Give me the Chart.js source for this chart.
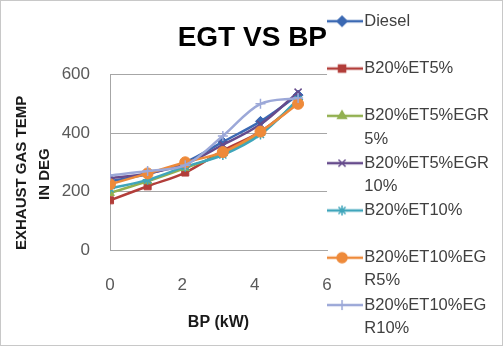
<!DOCTYPE html>
<html>
<head>
<meta charset="utf-8">
<script src="https://cdn.jsdelivr.net/npm/chart.js@4.4.1/dist/chart.umd.min.js"></script>
<style>
  html, body { margin: 0; background: #fff; }
  #wrap { width: 503px; height: 346px; position: relative; }
</style>
</head>
<body>
<div id="wrap"><canvas id="chart"></canvas></div>
<script>
// BP (kW) readings
const bp = [0, 1.04, 2.08, 3.12, 4.16, 5.2];

const seriesNames = ['Diesel', 'B20%ET5%', 'B20%ET5%EGR5%', 'B20%ET5%EGR10%', 'B20%ET10%', 'B20%ET10%EGR5%', 'B20%ET10%EGR10%'];

// exhaust gas temperature, deg
const diesel      = [235, 260, 300, 370, 440, 530];
const b20et5      = [170, 218, 265, 340, 405, 505];
const b20et5egr5  = [195, 235, 280, 330, 400, 510];
const b20et5egr10 = [245, 262, 295, 360, 430, 540];
const b20et10     = [210, 240, 285, 325, 395, 515];
const b20et10egr5 = [225, 262, 300, 335, 405, 500];
const b20et10egr10 = [255, 270, 290, 390, 500, 520];

const yTicks = [0, 200, 400, 600];
const xTicks = [0, 2, 4, 6];

const seriesValues = [diesel, b20et5, b20et5egr5, b20et5egr10, b20et10, b20et10egr5, b20et10egr10];
const colors = ['#3b69b3', '#b23e3a', '#92b050', '#664b8c', '#3fa5bb', '#ee8a3a', '#9ca8d8'];
const markers = ['rectRot', 'rect', 'triangle', 'crossRot', 'star', 'circle', 'cross'];

// small line+marker picture for each legend entry
function legendIcon(color, style) {
  const c = document.createElement('canvas');
  c.width = 42; c.height = 14;
  const ctx = c.getContext('2d');
  ctx.strokeStyle = color;
  ctx.lineWidth = 2.5;
  ctx.beginPath(); ctx.moveTo(0, 7); ctx.lineTo(42, 7); ctx.stroke();
  ctx.fillStyle = color;
  ctx.lineWidth = 1.5;
  Chart.helpers.drawPoint(ctx, { pointStyle: style, radius: 5, borderWidth: 1.5, rotation: 0 }, 21, 7);
  return c;
}

// wrap legend text like Excel does in the narrow legend
function wrap(label) {
  const lines = [];
  for (let i = 0; i < label.length; i += 11) lines.push(label.slice(i, i + 11));
  if (lines.length < 2) lines.push('');
  return lines;
}

const datasets = seriesNames.map((name, i) => ({
  label: name,
  data: bp.map((x, j) => ({ x, y: seriesValues[i][j] })),
  borderColor: colors[i],
  backgroundColor: colors[i],
  pointBackgroundColor: colors[i],
  pointBorderColor: colors[i],
  pointStyle: markers[i],
  pointRadius: markers[i] === 'circle' ? 5.5 : 5,
  pointBorderWidth: markers[i] === 'crossRot' || markers[i] === 'cross' || markers[i] === 'star' ? 1.5 : 1,
  borderWidth: 2.5,
  showLine: true,
  tension: 0.35,
  order: seriesNames.length - i
}));

const frame = {
  id: 'frame',
  beforeDraw(chart) {
    const ctx = chart.ctx;
    ctx.save();
    ctx.fillStyle = '#fff';
    ctx.fillRect(0, 0, chart.width, chart.height);
    ctx.restore();
  },
  afterDraw(chart) {
    const ctx = chart.ctx;
    ctx.save();
    ctx.strokeStyle = '#c8c8c8';
    ctx.lineWidth = 1;
    ctx.strokeRect(0.5, 0.5, chart.width - 1, chart.height - 1);
    ctx.restore();
  }
};

new Chart(document.getElementById('chart'), {
  type: 'scatter',
  data: { datasets },
  plugins: [frame],
  options: {
    responsive: true,
    maintainAspectRatio: false,
    animation: false,
    layout: { padding: { top: 12, right: 4, bottom: 0, left: 0 } },
    plugins: {
      title: {
        display: true,
        text: 'EGT VS BP',
        align: 'end',
        fullSize: false,
        color: '#000',
        font: { family: 'Liberation Sans, Arial, sans-serif', size: 28, weight: 'bold', lineHeight: 1.2 },
        padding: { top: 9, bottom: 20 }
      },
      legend: {
        position: 'right',
        align: 'start',
        maxWidth: 220,
        labels: {
          usePointStyle: true,
          pointStyleWidth: 28,
          padding: 1,
          color: '#404040',
          font: { family: 'Liberation Sans, Arial, sans-serif', size: 16.5, lineHeight: 1.403 },
          generateLabels: chart => chart.data.datasets.map((ds, i) => ({
            text: wrap(ds.label),
            pointStyle: legendIcon(colors[i], markers[i]),
            fillStyle: colors[i],
            strokeStyle: colors[i],
            lineWidth: 0,
            fontColor: '#404040',
            hidden: false,
            datasetIndex: i
          }))
        }
      },
      tooltip: { enabled: false }
    },
    scales: {
      x: {
        type: 'linear',
        min: xTicks[0],
        max: xTicks[xTicks.length - 1],
        afterBuildTicks: s => { s.ticks = xTicks.map(v => ({ value: v })); },
        afterFit: s => { s.height = 96; },
        grid: { display: false, drawTicks: false },
        border: { display: true, color: '#a6a6a6', width: 1 },
        ticks: { color: '#595959', padding: 25, font: { family: 'Liberation Sans, Arial, sans-serif', size: 17 } },
        title: {
          display: true,
          text: 'BP (kW)',
          color: '#1a1a1a',
          font: { family: 'Liberation Sans, Arial, sans-serif', size: 16, weight: 'bold', lineHeight: 1.2 },
          padding: { top: 0, bottom: 14 }
        }
      },
      y: {
        min: yTicks[0],
        max: yTicks[yTicks.length - 1],
        afterBuildTicks: s => { s.ticks = yTicks.map(v => ({ value: v })); },
        afterFit: s => { s.width = 110; },
        grid: { color: '#a6a6a6', drawTicks: false },
        border: { display: true, color: '#a6a6a6', width: 1 },
        ticks: { color: '#595959', padding: 20, font: { family: 'Liberation Sans, Arial, sans-serif', size: 17 } },
        title: {
          display: true,
          text: ['EXHAUST GAS TEMP', '            IN DEG'],
          align: 'start',
          color: '#1a1a1a',
          font: { family: 'Liberation Sans, Arial, sans-serif', size: 15, weight: 'bold', lineHeight: 1.55 },
          padding: { top: 10, bottom: 0 }
        }
      }
    }
  }
});
</script>
</body>
</html>
